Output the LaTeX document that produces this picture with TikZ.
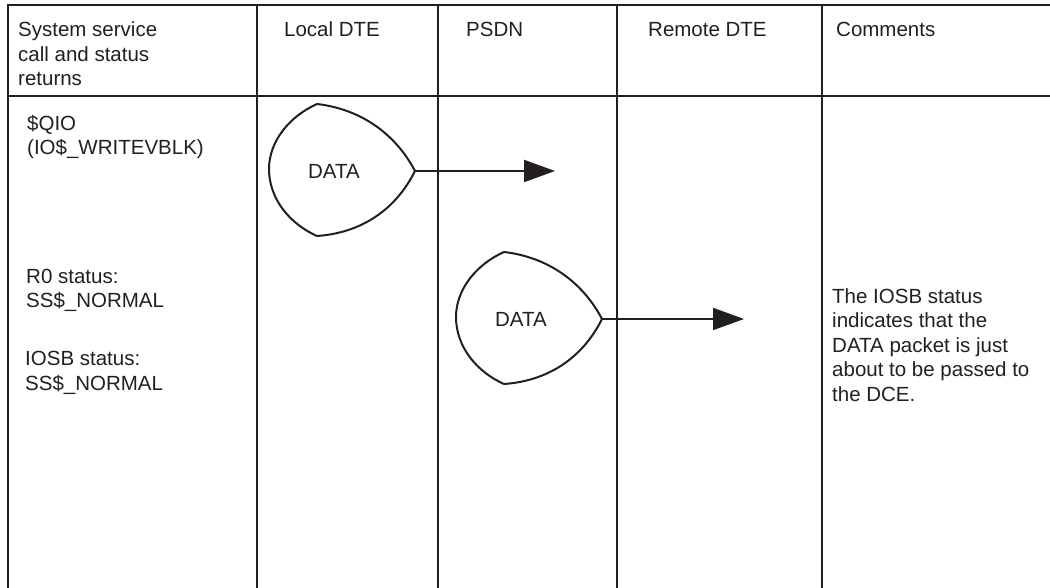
\documentclass[tikz,border=0pt]{standalone}
\usepackage{fontspec}
\setmainfont{Liberation Sans}
\usetikzlibrary{arrows.meta}
\definecolor{ink}{HTML}{231F20}

\tikzset{
  rule/.style={draw=ink, line width=2pt},
  % multi-line texts are placed by the baseline of their last line
  txt/.style={anchor=base west, inner sep=0pt, align=left, text=ink,
              font=\fontsize{20.5}{24.5}\selectfont},
  lbl/.style={anchor=center, inner sep=0pt, text=ink,
              font=\fontsize{20.5}{24.5}\selectfont},
  pkt/.style={draw=ink, line width=2pt, line join=round},
  flow/.style={draw=ink, line width=2pt, -{Triangle[length=31pt,width=22pt]}},
  % data packet: rounded back, pointed front; the origin is the tip
  packet/.pic={
    \draw[pkt] (-98,-67)
      .. controls (-125,-55) and (-146,-30) .. (-146,-2)
      .. controls (-146,28) and (-125,53) .. (-98,65)
      .. controls (-55,62) and (-20,40) .. (0,0)
      .. controls (-20,-38) and (-55,-62) .. cycle;
    \coordinate (-tip) at (0,0);
    \node[lbl] (-label) at (-81,0) {DATA};
  }
}

\begin{document}
\begin{tikzpicture}[x=1pt, y=-1pt]
  \useasboundingbox (0,0) rectangle (1050,588);

  % table frame and column rules
  \draw[rule] (8,588) -- (8,5) -- (1050,5);
  \draw[rule] (8,96) -- (1050,96);
  \foreach \cx in {257,438,617,822}
    \draw[rule] (\cx,5) -- (\cx,588);

  % column headings
  \node[txt] (hsys)    at (18,86)  {System service\\call and status\\returns};
  \node[txt] (hlocal)  at (284,37) {Local DTE};
  \node[txt] (hpsdn)   at (466,37) {PSDN};
  \node[txt] (hremote) at (648,37) {Remote DTE};
  \node[txt] (hcomm)   at (836,37) {Comments};

  % service calls and status returns
  \node[txt] (qio)  at (27,155) {\$QIO\\(IO\$\_WRITEVBLK)};
  \node[txt] (r0)   at (26,308) {R0 status:\\SS\$\_NORMAL};
  \node[txt] (iosb) at (25,390) {IOSB status:\\SS\$\_NORMAL};

  % comment
  \node[txt] (note) at (832,401) {The IOSB status\\indicates that the\\DATA packet is just\\about to be passed to\\the DCE.};

  % packets and their flow
  \pic (p1) at (415,171) {packet};
  \coordinate (a1) at (555,171);
  \draw[flow] (p1-tip) -- (a1);

  \pic (p2) at (602,319) {packet};
  \coordinate (a2) at (744,319);
  \draw[flow] (p2-tip) -- (a2);
\end{tikzpicture}
\end{document}
